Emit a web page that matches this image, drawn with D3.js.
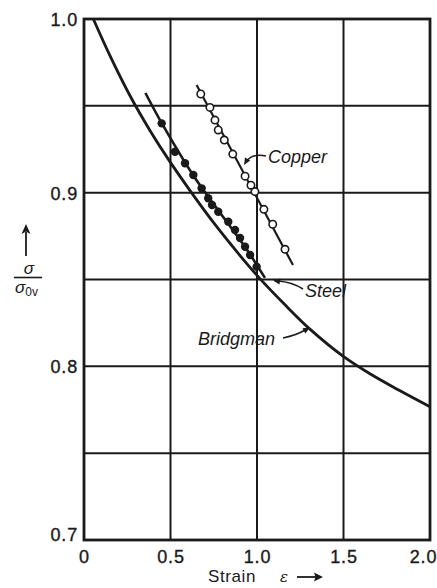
<!DOCTYPE html>
<html>
<head>
<meta charset="utf-8">
<script src="https://cdn.jsdelivr.net/npm/d3@7"></script>
<style>
  html, body { margin: 0; padding: 0; background: #fff; }
  svg { display: block; }
  text { font-family: "Liberation Sans", Arial, sans-serif; fill: #1a1a1a; }
</style>
</head>
<body>
<div id="chart"></div>
<script>
// Tick values
const xTicks = [0, 0.5, 1.0, 1.5, 2.0];
const xTickLabels = ["0", "0.5", "1.0", "1.5", "2.0"];
const yGrid = [0.75, 0.8, 0.85, 0.9, 0.95];
const yTicks = [0.7, 0.8, 0.9, 1.0];
const yTickLabels = ["0.7", "0.8", "0.9", "1.0"];

// Bridgman correction curve (strain, sigma / sigma_av)
const bridgmanStrain = [0.054, 0.150, 0.266, 0.382, 0.487, 0.613, 0.757, 0.902, 1.017, 1.162, 1.306, 1.499, 1.653, 1.827, 2.0];
const bridgmanRatio  = [1.0, 0.9789, 0.9558, 0.9357, 0.9193, 0.9012, 0.8817, 0.8638, 0.8505, 0.8354, 0.8214, 0.8057, 0.7957, 0.7859, 0.7767];

// Steel measurements (filled) and the curve drawn through them
const steelStrain = [0.449, 0.526, 0.584, 0.632, 0.680, 0.718, 0.740, 0.776, 0.834, 0.873, 0.902, 0.931, 0.960, 0.998];
const steelRatio  = [0.9399, 0.9236, 0.9169, 0.9102, 0.9025, 0.8968, 0.8929, 0.8890, 0.8833, 0.8785, 0.8739, 0.8689, 0.8641, 0.8574];
const steelFitStrain = [0.355, 0.449, 0.632, 0.931, 1.046];
const steelFitRatio  = [0.9574, 0.9401, 0.9099, 0.8687, 0.8509];

// Copper measurements (open) and fitted line
const copperStrain = [0.675, 0.728, 0.757, 0.776, 0.811, 0.860, 0.931, 0.965, 0.988, 1.040, 1.091, 1.162];
const copperRatio  = [0.9568, 0.9491, 0.9418, 0.9361, 0.9303, 0.9222, 0.9095, 0.9043, 0.9006, 0.8904, 0.8818, 0.8674];
const copperFitStrain = [0.651, 1.208];
const copperFitRatio  = [0.962, 0.8583];

const W = 437, H = 588;
const svg = d3.select("#chart").append("svg").attr("width", W).attr("height", H);

const x = d3.scaleLinear().domain([0, 2]).range([84, 430]);
const y = d3.scaleLinear().domain([0.7, 1.0]).range([540, 19]);
const ink = "#1a1a1a";

// grid
const grid = svg.append("g");
grid.selectAll("line.v").data(xTicks.slice(1, -1)).join("line")
  .attr("x1", d => x(d)).attr("x2", d => x(d))
  .attr("y1", y(0.7)).attr("y2", y(1.0))
  .attr("stroke", ink).attr("stroke-width", 2);
grid.selectAll("line.h").data(yGrid).join("line")
  .attr("x1", x(0)).attr("x2", x(2))
  .attr("y1", d => y(d)).attr("y2", d => y(d))
  .attr("stroke", ink).attr("stroke-width", 2);

// frame
svg.append("rect")
  .attr("x", x(0)).attr("y", y(1.0))
  .attr("width", x(2) - x(0)).attr("height", y(0.7) - y(1.0))
  .attr("fill", "none").attr("stroke", ink).attr("stroke-width", 2.8);

// x axis labels
const xAxis = d3.axisBottom(x).tickValues(xTicks).tickSize(0).tickPadding(0)
  .tickFormat((d, i) => xTickLabels[i]);
const gx = svg.append("g").attr("transform", `translate(0,${y(0.7)})`).call(xAxis);
gx.select(".domain").remove();
gx.selectAll("text")
  .attr("y", 23).attr("dy", 0)
  .attr("font-size", 18).attr("letter-spacing", 0.8)
  .attr("fill", ink).attr("stroke", ink).attr("stroke-width", 0.35)
  .attr("dx", (d, i) => i === xTicks.length - 1 ? -7 : 0);

// y axis labels
const yAxis = d3.axisLeft(y).tickValues(yTicks).tickSize(0).tickPadding(6)
  .tickFormat((d, i) => yTickLabels[i]);
const gy = svg.append("g").attr("transform", `translate(${x(0)},0)`).call(yAxis);
gy.select(".domain").remove();
gy.selectAll("text")
  .attr("font-size", 18).attr("letter-spacing", 0.8)
  .attr("fill", ink).attr("stroke", ink).attr("stroke-width", 0.35)
  .attr("dy", (d) => d === 0.7 ? "0.0em" : "0.36em");

// x axis title
const xt = svg.append("text").attr("x", 208).attr("y", 582).attr("font-size", 17).attr("letter-spacing", 0.6);
xt.append("tspan").text("Strain");
xt.append("tspan").attr("dx", 24).attr("font-style", "italic").attr("font-family", "DejaVu Serif, serif").attr("font-size", 15).text("ε");
svg.append("line").attr("x1", 297).attr("x2", 318).attr("y1", 577).attr("y2", 577)
  .attr("stroke", ink).attr("stroke-width", 1.8);
svg.append("path").attr("d", "M323,577 L314,572.5 L315.5,577 L314,581.5 Z").attr("fill", ink);

// y axis title: arrow and fraction
svg.append("line").attr("x1", 26).attr("x2", 26).attr("y1", 256).attr("y2", 232)
  .attr("stroke", ink).attr("stroke-width", 1.8);
svg.append("path").attr("d", "M26,224 L21.5,234 L26,231.5 L30.5,234 Z").attr("fill", ink);
svg.append("text").attr("x", 29).attr("y", 274).attr("text-anchor", "middle")
  .attr("font-size", 17).attr("font-style", "italic").text("σ");
svg.append("line").attr("x1", 14).attr("x2", 42).attr("y1", 277.5).attr("y2", 277.5)
  .attr("stroke", ink).attr("stroke-width", 1.6);
const den = svg.append("text").attr("x", 15).attr("y", 293).attr("font-size", 17).attr("font-style", "italic");
den.append("tspan").text("σ");
den.append("tspan").attr("font-size", 12).attr("font-style", "normal").attr("dy", 3).text("0v");

// curves and fitted lines
const smooth = d3.line().x(d => x(d[0])).y(d => y(d[1])).curve(d3.curveCatmullRom.alpha(0.5));
svg.append("path").datum(d3.zip(bridgmanStrain, bridgmanRatio))
  .attr("d", smooth)
  .attr("fill", "none").attr("stroke", ink).attr("stroke-width", 2.8);

svg.append("path").datum(d3.zip(steelFitStrain, steelFitRatio))
  .attr("d", smooth).attr("fill", "none").attr("stroke", ink).attr("stroke-width", 2.6);

const straight = d3.line().x(d => x(d[0])).y(d => y(d[1]));
svg.append("path").datum(d3.zip(copperFitStrain, copperFitRatio))
  .attr("d", straight).attr("fill", "none").attr("stroke", ink).attr("stroke-width", 2.2);

// steel points
svg.append("g").selectAll("circle").data(d3.zip(steelStrain, steelRatio)).join("circle")
  .attr("cx", d => x(d[0])).attr("cy", d => y(d[1])).attr("r", 4.2)
  .attr("fill", ink);

// copper points
svg.append("g").selectAll("circle").data(d3.zip(copperStrain, copperRatio)).join("circle")
  .attr("cx", d => x(d[0])).attr("cy", d => y(d[1])).attr("r", 3.7)
  .attr("fill", "#fff").attr("stroke", ink).attr("stroke-width", 1.6);

// annotations with leaders
function leader(path, tip, dir) {
  svg.append("path").attr("d", path).attr("fill", "none").attr("stroke", ink).attr("stroke-width", 1.5);
  const [tx, ty] = tip;
  const a = Math.atan2(dir[1], dir[0]);
  const L = 7, Wd = 3;
  const bx = tx - L * Math.cos(a), by = ty - L * Math.sin(a);
  const px = -Math.sin(a) * Wd, py = Math.cos(a) * Wd;
  svg.append("path")
    .attr("d", `M${tx},${ty} L${bx + px},${by + py} L${bx - px},${by - py} Z`)
    .attr("fill", ink);
}

svg.append("text").attr("x", 268).attr("y", 163).attr("font-size", 18).attr("font-style", "italic").text("Copper");
leader("M266,156 Q252,153 246,162", [244, 165], [-0.6, 1]);

svg.append("text").attr("x", 305).attr("y", 297).attr("font-size", 18).attr("font-style", "italic").text("Steel");
leader("M303,289 Q292,282 278,281", [273, 280.5], [-1, -0.15]);

svg.append("text").attr("x", 198).attr("y", 345).attr("font-size", 18).attr("font-style", "italic").text("Bridgman");
leader("M283,338 Q297,335 305,330", [310, 327.5], [1, -0.55]);
</script>
</body>
</html>
